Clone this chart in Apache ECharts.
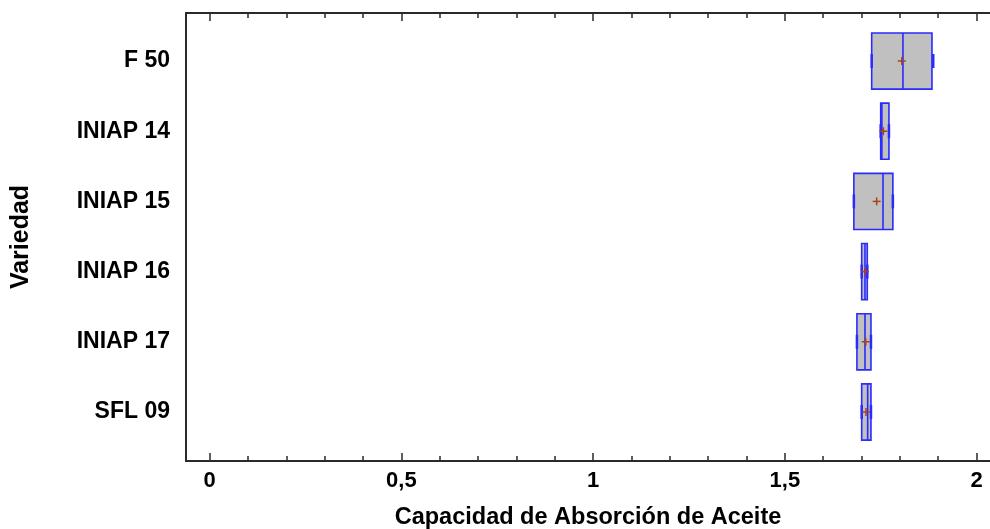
<!DOCTYPE html>
<html>
<head>
<meta charset="utf-8">
<script src="https://cdn.jsdelivr.net/npm/echarts@6/dist/echarts.min.js"></script>
<style>
  html, body { margin: 0; padding: 0; background: #fff; }
  #chart { width: 990px; height: 529px; }
</style>
</head>
<body>
<div id="chart"></div>
<script>
// Varieties, top to bottom
const categories = ['F 50', 'INIAP 14', 'INIAP 15', 'INIAP 16', 'INIAP 17', 'SFL 09'];
// Five-number summaries and means of oil absorption capacity
const minValues    = [1.7265, 1.750, 1.680, 1.7004, 1.688, 1.7004];
const q1Values     = [1.7265, 1.750, 1.680, 1.7004, 1.688, 1.7004];
const medianValues = [1.808, 1.753, 1.756, 1.709, 1.709, 1.716];
const q3Values     = [1.8837, 1.7715, 1.7817, 1.715, 1.7246, 1.7246];
const maxValues    = [1.887, 1.7715, 1.7817, 1.715, 1.7246, 1.7246];
const meanValues   = [1.805, 1.757, 1.7395, 1.709, 1.711, 1.7116];
// Axis ticks
const majorTicks = [0, 0.5, 1, 1.5, 2];
const minorTicks = [0.1, 0.2, 0.3, 0.4, 0.6, 0.7, 0.8, 0.9, 1.1, 1.2, 1.3, 1.4, 1.6, 1.7, 1.8, 1.9];

const X_MIN = -0.0615, X_MAX = 2.035;
const Y_MIN = -0.684, Y_MAX = 5.698;
const FONT = '"Liberation Sans", Arial, sans-serif';
const AXIS_COLOR = '#2a2a2a';
const BOX_STROKE = '#2a2aff';

const boxData = categories.map((c, i) => [i, minValues[i], q1Values[i], medianValues[i], q3Values[i], maxValues[i], meanValues[i]]);

function tickAxis(position, ticks, len, withLine, extra) {
  return Object.assign({
    type: 'value', position: position, min: X_MIN, max: X_MAX,
    axisLine: { show: withLine, onZero: false, lineStyle: { color: AXIS_COLOR, width: 2 } },
    axisTick: { show: true, inside: true, length: len, customValues: ticks, lineStyle: { color: AXIS_COLOR, width: 1.5 } },
    axisLabel: { show: false },
    splitLine: { show: false }
  }, extra || {});
}

function renderBox(params, api) {
  const idx = api.value(0);
  const vMin = api.value(1), vQ1 = api.value(2), vMed = api.value(3), vQ3 = api.value(4), vMax = api.value(5), vMean = api.value(6);
  const half = api.size([0, 0.4])[1];
  const cy = api.coord([0, idx])[1];
  const xMin = api.coord([vMin, idx])[0];
  const xQ1 = api.coord([vQ1, idx])[0];
  const xMed = api.coord([vMed, idx])[0];
  const xQ3 = api.coord([vQ3, idx])[0];
  const xMax = api.coord([vMax, idx])[0];
  const xMean = api.coord([vMean, idx])[0];
  const capHalf = 7;
  const lineStyle = { stroke: BOX_STROKE, lineWidth: 1.6, fill: null };
  return {
    type: 'group',
    children: [
      { type: 'rect', shape: { x: xQ1, y: cy - half, width: xQ3 - xQ1, height: 2 * half },
        style: { fill: '#c0c0c0', stroke: BOX_STROKE, lineWidth: 1.6 } },
      { type: 'line', shape: { x1: xMed, y1: cy - half, x2: xMed, y2: cy + half }, style: lineStyle },
      { type: 'line', shape: { x1: xMin, y1: cy, x2: xQ1, y2: cy }, style: lineStyle },
      { type: 'line', shape: { x1: xQ3, y1: cy, x2: xMax, y2: cy }, style: lineStyle },
      { type: 'line', shape: { x1: xMin, y1: cy - capHalf, x2: xMin, y2: cy + capHalf }, style: { stroke: BOX_STROKE, lineWidth: 2.5 } },
      { type: 'line', shape: { x1: xMax, y1: cy - capHalf, x2: xMax, y2: cy + capHalf }, style: { stroke: BOX_STROKE, lineWidth: 2.5 } },
      { type: 'line', shape: { x1: xMean - 4, y1: cy, x2: xMean + 4, y2: cy }, style: { stroke: '#a5431c', lineWidth: 1.5 } },
      { type: 'line', shape: { x1: xMean, y1: cy - 4, x2: xMean, y2: cy + 4 }, style: { stroke: '#a5431c', lineWidth: 1.5 } }
    ]
  };
}

const chart = echarts.init(document.getElementById('chart'), null, { renderer: 'canvas' });
chart.setOption({
  animation: false,
  backgroundColor: '#ffffff',
  grid: { left: 186, top: 13, right: 0, bottom: 68, containLabel: false, outerBoundsMode: 'none' },
  xAxis: [
    tickAxis('bottom', majorTicks, 8, true, {
      axisLabel: {
        show: true, customValues: majorTicks, margin: 9,
        formatter: v => String(v).replace('.', ','),
        fontFamily: FONT, fontWeight: 'bold', fontSize: 22, color: '#000'
      },
      name: 'Capacidad de Absorción de Aceite', nameLocation: 'middle', nameGap: 45,
      nameTextStyle: { fontFamily: FONT, fontWeight: 'bold', fontSize: 23.5, color: '#000' }
    }),
    tickAxis('bottom', minorTicks, 5, false),
    tickAxis('top', majorTicks, 8, true),
    tickAxis('top', minorTicks, 5, false)
  ],
  yAxis: {
    type: 'value', inverse: true, min: Y_MIN, max: Y_MAX,
    axisLine: { show: true, onZero: false, lineStyle: { color: AXIS_COLOR, width: 2 } },
    axisTick: { show: false },
    splitLine: { show: false },
    axisLabel: {
      customValues: [0, 1, 2, 3, 4, 5], margin: 16,
      formatter: v => categories[Math.round(v)] || '',
      fontFamily: FONT, fontWeight: 'bold', fontSize: 23, color: '#000'
    },
    name: 'Variedad', nameLocation: 'middle', nameRotate: 90, nameGap: 152,
    nameTextStyle: { fontFamily: FONT, fontWeight: 'bold', fontSize: 25, color: '#000' }
  },
  series: [{
    type: 'custom',
    xAxisIndex: 0,
    renderItem: renderBox,
    encode: { x: [1, 2, 3, 4, 5, 6], y: 0 },
    data: boxData,
    clip: false
  }]
});
</script>
</body>
</html>
